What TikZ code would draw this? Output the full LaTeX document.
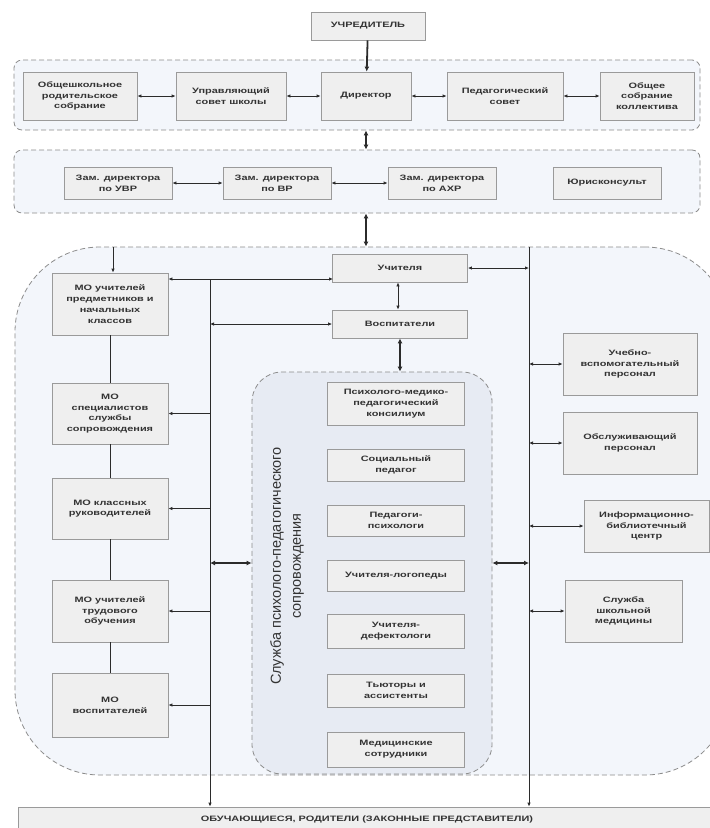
\documentclass[tikz,border=0pt]{standalone}
\usepackage{fontspec}
\setmainfont{Liberation Sans}[FakeStretch=1.4]
\newfontfamily\rotfont{Liberation Sans}
\usetikzlibrary{arrows.meta}
\definecolor{boxfill}{HTML}{EFEFEF}
\definecolor{boxline}{HTML}{9A9A9A}
\definecolor{contfill}{HTML}{F3F6FB}
\definecolor{contline}{HTML}{8C8C8C}
\definecolor{innerfill}{HTML}{E7EBF3}
\definecolor{linec}{HTML}{2B2B2B}
\definecolor{txt}{HTML}{333333}
\begin{document}
\begin{tikzpicture}[x=1pt,y=-1pt,
  box/.style={draw=boxline, fill=boxfill, line width=0.8pt, align=center, text=txt,
    font=\fontsize{7.8}{10.8}\selectfont\bfseries, inner sep=1pt},
  cont/.style={draw=contline, dash pattern=on 5pt off 3pt, line width=0.8pt, fill=contfill, inner sep=0pt},
  conn/.style={draw=linec, line width=0.9pt},
  dbl/.style={conn, {Latex[length=4pt,width=3.5pt]}-{Latex[length=4pt,width=3.5pt]}},
  sgl/.style={conn, -{Latex[length=4pt,width=3.5pt]}},
  tdbl/.style={draw=linec, line width=1.8pt, {Latex[length=5pt,width=5pt]}-{Latex[length=5pt,width=5pt]}},
  tsgl/.style={draw=linec, line width=1.8pt, -{Latex[length=5pt,width=5pt]}}
]
\useasboundingbox (0,0) rectangle (710,828);
\clip (0,0) rectangle (710,828);
\fill[white] (0,0) rectangle (710,828);

% containers
\node[cont, rounded corners=8pt, minimum width=686, minimum height=70] (c1) at (357,95) {};
\node[cont, rounded corners=8pt, minimum width=686, minimum height=63] (c2) at (357,181.5) {};
\node[cont, rounded corners=85pt, minimum width=715, minimum height=528] (c3) at (372.5,511) {};
\node[cont, fill=innerfill, rounded corners=30pt, minimum width=240, minimum height=402] (c4) at (372,573) {};

% top
\node[box, minimum width=114, minimum height=28] (uch) at (368,26) {УЧРЕДИТЕЛЬ};
\node[box, minimum width=114, minimum height=48] (obsh) at (80,96) {Общешкольное\\родительское\\собрание};
\node[box, minimum width=110, minimum height=48] (upr) at (231,96) {Управляющий\\совет школы};
\node[box, minimum width=90, minimum height=48] (dir) at (366,96) {Директор};
\node[box, minimum width=116, minimum height=48] (ped) at (505,96) {Педагогический\\совет};
\node[box, minimum width=94, minimum height=48] (obs) at (647,96) {Общее\\собрание\\коллектива};

\node[box, minimum width=108, minimum height=32] (zuvr) at (118,183) {Зам. директора\\по УВР};
\node[box, minimum width=108, minimum height=32] (zvr) at (277,183) {Зам. директора\\по ВР};
\node[box, minimum width=108, minimum height=32] (zahr) at (442,183) {Зам. директора\\по АХР};
\node[box, minimum width=108, minimum height=32] (jur) at (607,183) {Юрисконсульт};

% middle
\node[box, minimum width=135, minimum height=28] (uchit) at (400,268) {Учителя};
\node[box, minimum width=135, minimum height=28] (vosp) at (400,324) {Воспитатели};

% left MO column
\node[box, minimum width=116, minimum height=62] (mo1) at (110,304) {МО учителей\\предметников и\\начальных\\классов};
\node[box, minimum width=116, minimum height=61] (mo2) at (110,413.5) {МО\\специалистов\\службы\\сопровождения};
\node[box, minimum width=116, minimum height=61] (mo3) at (110,508.5) {МО классных\\руководителей};
\node[box, minimum width=116, minimum height=62] (mo4) at (110,611) {МО учителей\\трудового\\обучения};
\node[box, minimum width=116, minimum height=64] (mo5) at (110,705) {МО\\воспитателей};

% inner column
\node[box, minimum width=137, minimum height=43] (ppk) at (396,403.5) {Психолого-медико-\\педагогический\\консилиум};
\node[box, minimum width=137, minimum height=32] (soc) at (396,465) {Социальный\\педагог};
\node[box, minimum width=137, minimum height=31] (psy) at (396,520.5) {Педагоги-\\психологи};
\node[box, minimum width=137, minimum height=31] (log) at (396,575.5) {Учителя-логопеды};
\node[box, minimum width=137, minimum height=34] (def) at (396,631) {Учителя-\\дефектологи};
\node[box, minimum width=137, minimum height=33] (tut) at (396,690.5) {Тьюторы и\\ассистенты};
\node[box, minimum width=137, minimum height=35] (med) at (396,749.5) {Медицинские\\сотрудники};
\node[rotate=90, align=center, text=txt, font=\rotfont\fontsize{14.5}{20}\selectfont] (slab) at (287,566) {Служба психолого-педагогического\\сопровождения};

% right column
\node[box, minimum width=134, minimum height=62] (uvp) at (630,364) {Учебно-\\вспомогательный\\персонал};
\node[box, minimum width=134, minimum height=62] (obsl) at (630,443) {Обслуживающий\\персонал};
\node[box, minimum width=125, minimum height=52] (inf) at (646.5,526) {Информационно-\\библиотечный\\центр};
\node[box, minimum width=117, minimum height=62] (smed) at (623.5,611) {Служба\\школьной\\медицины};

% bottom
\node[box, minimum width=698, minimum height=24] (stud) at (367,819) {ОБУЧАЮЩИЕСЯ, РОДИТЕЛИ (ЗАКОННЫЕ ПРЕДСТАВИТЕЛИ)};

% bus coordinates
\coordinate (lb) at (210,279);
\coordinate (rb) at (529,247);
\coordinate (mot) at (113,247);
\coordinate (uchl) at (333,279);

% top connectors
\draw[tsgl] (uch) -- (dir);
\draw[dbl] (obsh) -- (upr);
\draw[dbl] (upr) -- (dir);
\draw[dbl] (dir) -- (ped);
\draw[dbl] (ped) -- (obs);
\draw[tdbl] (c1.south -| dir) -- (c2.north -| dir);
\draw[dbl] (zuvr) -- (zvr);
\draw[dbl] (zvr) -- (zahr);
\draw[tdbl] (c2.south -| dir) -- (c3.north -| dir);

% left side
\draw[sgl] (mot) -- (mot |- mo1.north);
\draw[conn] (mo1) -- (mo2);
\draw[conn] (mo2) -- (mo3);
\draw[conn] (mo3) -- (mo4);
\draw[conn] (mo4) -- (mo5);
\draw[dbl] (mo1.east |- uchl) -- (uchl);
\draw[sgl] (lb) -- (lb |- stud.north);
\draw[dbl] (lb |- vosp.west) -- (vosp.west);
\draw[sgl] (lb |- mo2.east) -- (mo2.east);
\draw[sgl] (lb |- mo3.east) -- (mo3.east);
\draw[sgl] (lb |- mo4.east) -- (mo4.east);
\draw[sgl] (lb |- mo5.east) -- (mo5.east);
\coordinate (mid) at (0,563);
\draw[tdbl] (lb |- mid) -- (c4.west |- mid);

% centre
\draw[dbl] (uchit.south -| 398,0) -- (vosp.north -| 398,0);
\draw[tdbl] (vosp) -- (vosp |- c4.north);

% right side
\draw[sgl] (rb) -- (rb |- stud.north);
\draw[dbl] (uchit.east) -- (uchit.east -| rb);
\draw[tdbl] (c4.east |- mid) -- (rb |- mid);
\draw[dbl] (rb |- uvp.west) -- (uvp.west);
\draw[dbl] (rb |- obsl.west) -- (obsl.west);
\draw[dbl] (rb |- inf.west) -- (inf.west);
\draw[dbl] (rb |- smed.west) -- (smed.west);
\end{tikzpicture}
\end{document}
